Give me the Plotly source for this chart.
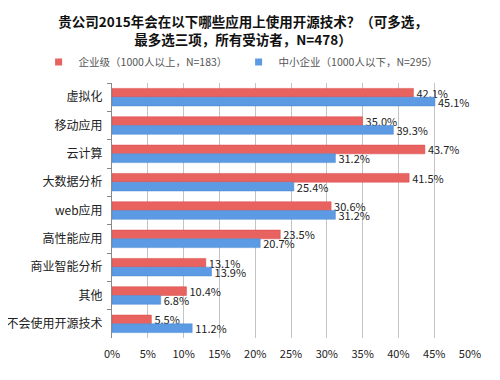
import plotly.graph_objects as go

categories = ["虚拟化", "移动应用", "云计算", "大数据分析", "web应用", "高性能应用", "商业智能分析", "其他", "不会使用开源技术"]
large_ent = [42.1, 35.0, 43.7, 41.5, 30.6, 23.5, 13.1, 10.4, 5.5]
small_ent = [45.1, 39.3, 31.2, 25.4, 31.2, 20.7, 13.9, 6.8, 11.2]
series_names = ["企业级（1000人以上，N=183）", "中小企业（1000人以下，N=295）"]
x_ticks = [0, 5, 10, 15, 20, 25, 30, 35, 40, 45, 50]
x_tick_labels = [f"{v}%" for v in x_ticks]

FONT = "Noto Sans CJK SC"
COLORS = ["#E8625F", "#5C9BE3"]
LINES = ["#D9494A", "#4A86D0"]

fig = go.Figure()
for name, vals, color, line in zip(series_names, [large_ent, small_ent], COLORS, LINES):
    fig.add_trace(go.Bar(
        y=categories, x=vals, orientation="h", name=name, showlegend=False,
        marker=dict(color=color, line=dict(color=line, width=0.5)),
        text=[f"{v:.1f}%" for v in vals], textposition="outside",
        textfont=dict(size=11, color="#222222", family=FONT),
        constraintext="none", cliponaxis=False,
    ))
# legend keys (small squares like the reference)
for name, color in zip(series_names, COLORS):
    fig.add_trace(go.Scatter(
        x=[None], y=[None], mode="markers", name=name, showlegend=True,
        marker=dict(symbol="square", size=7, color=color),
    ))

fig.update_layout(
    width=500, height=380,
    margin=dict(l=104, r=38, t=75, b=50, autoexpand=False),
    paper_bgcolor="white", plot_bgcolor="white",
    barmode="group", bargap=0.38, bargroupgap=0.0,
    font=dict(family=FONT, color="#222222"),
    title=dict(
        text="<b>贵公司2015年会在以下哪些应用上使用开源技术？（可多选，<br>最多选三项，所有受访者，N=478）</b>",
        x=0.47, xref="container", xanchor="center",
        y=0.95, yref="container", yanchor="middle",
        font=dict(size=13.5, color="#111111", family=FONT),
    ),
    legend=dict(
        orientation="h", x=-0.205, xanchor="left",
        y=1.082, yanchor="middle",
        font=dict(size=10.5, color="#555555", family=FONT),
        traceorder="normal", entrywidth=155, entrywidthmode="pixels",
        itemwidth=30, bgcolor="rgba(0,0,0,0)",
    ),
    xaxis=dict(
        range=[0, 50], tickvals=x_ticks, ticktext=x_tick_labels,
        showgrid=True, gridcolor="#C4C4C4", gridwidth=1,
        zeroline=False, showline=False, ticks="", automargin=False,
        ticklabelstandoff=8,
        tickfont=dict(size=11, color="#222222", family=FONT),
    ),
    yaxis=dict(
        autorange="reversed", showline=True, linecolor="#888888", linewidth=1,
        ticks="outside", tickson="boundaries", ticklen=4, tickcolor="#888888",
        tickfont=dict(size=12, color="#222222", family=FONT),
        ticklabelstandoff=6, automargin=False,
    ),
)

fig.write_html("out.html")
